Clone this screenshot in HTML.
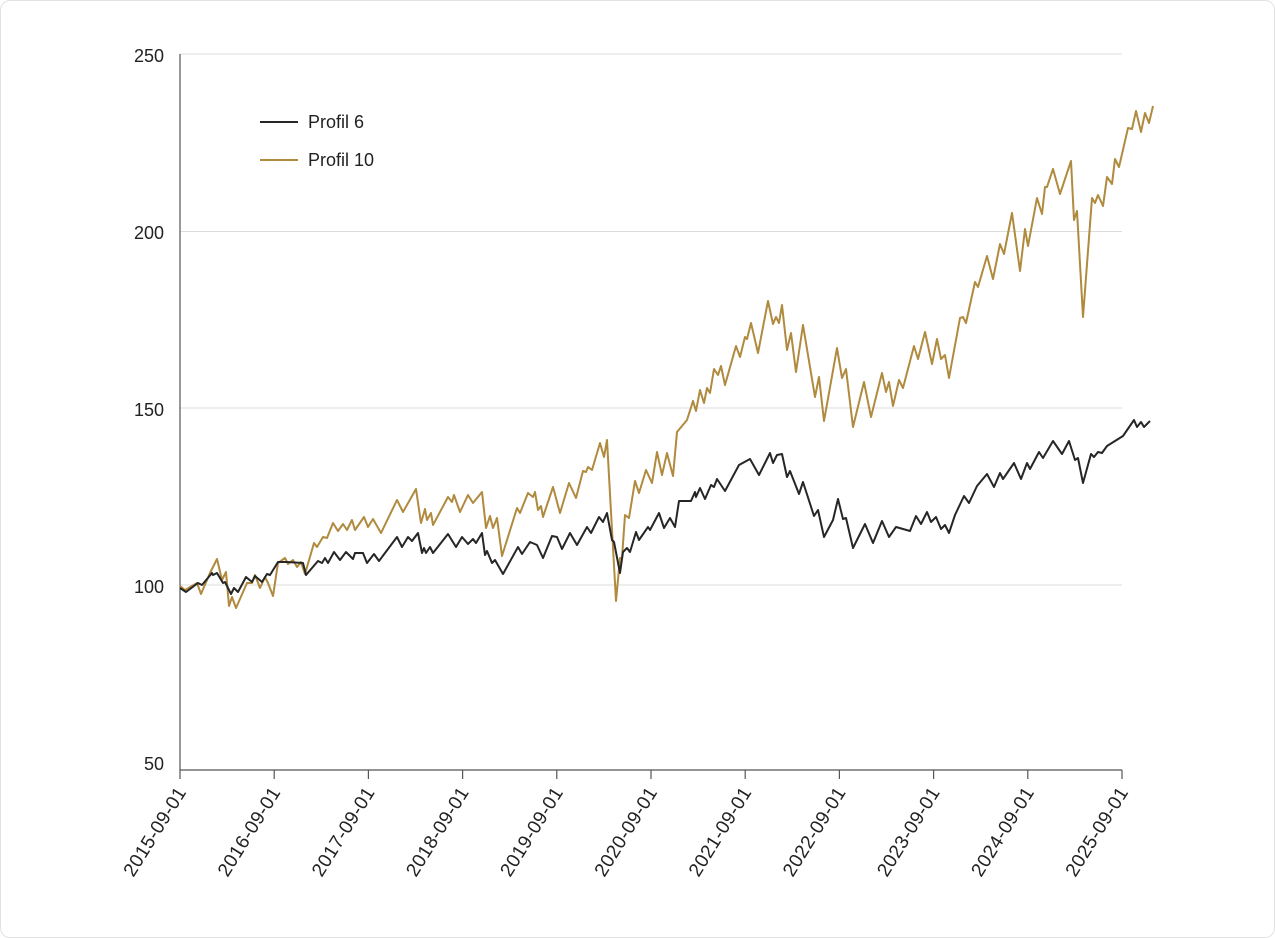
<!DOCTYPE html>
<html><head><meta charset="utf-8"><style>
html,body{margin:0;padding:0;background:#fff;}
.frame{position:absolute;left:0;top:0;width:1273px;height:936px;border:1px solid #e2e2e2;border-radius:10px;}
svg{position:absolute;left:0;top:0;}
text{font-family:"Liberation Sans",sans-serif;fill:#222;}
</style></head><body>
<div class="frame"></div>
<svg width="1275" height="938" viewBox="0 0 1275 938">
<g stroke="#dcdcdc" stroke-width="1">
<line x1="180" y1="54" x2="1122" y2="54"/>
<line x1="180" y1="231.5" x2="1122" y2="231.5"/>
<line x1="180" y1="408" x2="1122" y2="408"/>
<line x1="180" y1="585" x2="1122" y2="585"/>
</g>
<g stroke="#555" stroke-width="1.2">
<line x1="180" y1="54" x2="180" y2="770"/>
<line x1="180" y1="770" x2="1122" y2="770"/>
<line x1="180" y1="770" x2="180" y2="779"/>
<line x1="274.2" y1="770" x2="274.2" y2="779"/>
<line x1="368.4" y1="770" x2="368.4" y2="779"/>
<line x1="462.6" y1="770" x2="462.6" y2="779"/>
<line x1="556.8" y1="770" x2="556.8" y2="779"/>
<line x1="651" y1="770" x2="651" y2="779"/>
<line x1="745.2" y1="770" x2="745.2" y2="779"/>
<line x1="839.4" y1="770" x2="839.4" y2="779"/>
<line x1="933.6" y1="770" x2="933.6" y2="779"/>
<line x1="1027.8" y1="770" x2="1027.8" y2="779"/>
<line x1="1122" y1="770" x2="1122" y2="779"/>
</g>
<g font-size="18" text-anchor="end">
<text x="164" y="62">250</text>
<text x="164" y="239">200</text>
<text x="164" y="416">150</text>
<text x="164" y="593">100</text>
<text x="164" y="770">50</text>
</g>
<g font-size="19" text-anchor="end" letter-spacing="0.4">
<text transform="translate(187,792) rotate(-58)">2015-09-01</text>
<text transform="translate(281.2,792) rotate(-58)">2016-09-01</text>
<text transform="translate(375.4,792) rotate(-58)">2017-09-01</text>
<text transform="translate(469.6,792) rotate(-58)">2018-09-01</text>
<text transform="translate(563.8,792) rotate(-58)">2019-09-01</text>
<text transform="translate(658,792) rotate(-58)">2020-09-01</text>
<text transform="translate(752.2,792) rotate(-58)">2021-09-01</text>
<text transform="translate(846.4,792) rotate(-58)">2022-09-01</text>
<text transform="translate(940.6,792) rotate(-58)">2023-09-01</text>
<text transform="translate(1034.8,792) rotate(-58)">2024-09-01</text>
<text transform="translate(1129,792) rotate(-58)">2025-09-01</text>
</g>
<polyline fill="none" stroke="#b08a3e" stroke-width="2" stroke-linejoin="round" points="180,586 185,590 197,583 201,594 210,573 217,559 222,580 226,572 229,606 232,597 236,608 247,583 252,583 255,575 260,588 265,577 268,583 273,596 278,563 285,558 288,564 293,560 297,567 301,562 305,574 314,543 317,547 323,537 327,538 333,523 338,531 343,524 347,530 352,520 355,530 364,517 368,527 373,519 381,533 397,500 403,512 416,489 421,523 425,509 427,520 431,513 433,525 448,497 452,502 454,495 460,512 468,495 473,503 482,492 486,528 490,516 493,528 497,518 502,556 517,508 520,513 528,493 533,497 535,492 538,510 541,506 543,517 553,487 560,513 569,483 576,498 583,471 586,472 588,467 592,470 600,443 604,457 607,440 611,512 616,601 620,558 622,558 625,515 629,518 635,481 639,493 646,470 652,483 657,452 662,475 667,453 673,476 677,432 687,420 693,401 696,411 700,390 704,403 707,388 710,393 714,369 718,375 721,366 725,385 736,346 740,357 745,337 747,339 751,323 758,353 768,301 773,324 776,317 779,323 782,305 787,350 791,333 796,372 803,325 815,397 819,377 824,421 837,348 842,378 846,369 853,427 864,382 871,417 882,373 886,392 889,382 893,406 899,380 903,388 914,346 918,359 925,332 932,364 937,339 941,359 945,355 949,378 960,318 963,317 966,323 975,282 978,287 987,256 993,279 1000,244 1004,254 1012,213 1020,271 1025,229 1028,246 1037,198 1042,214 1045,187 1047,187 1053,169 1060,194 1071,161 1074,220 1077,211 1083,317 1092,198 1095,203 1098,195 1103,206 1107,177 1112,184 1115,159 1119,167 1128,128 1132,129 1136,111 1141,132 1145,113 1149,123 1153,106"/>
<polyline fill="none" stroke="#262626" stroke-width="2" stroke-linejoin="round" points="180,588 186,592 198,583 202,585 212,573 213,575 217,573 223,583 225,582 231,594 234,588 238,592 246,577 252,582 255,576 262,582 267,574 270,575 278,562 287,562 303,563 306,575 318,561 322,563 325,558 328,563 334,552 340,560 346,552 353,559 355,553 363,553 367,563 374,554 379,561 397,537 402,547 408,537 412,541 418,533 422,553 424,548 426,553 430,547 433,553 448,534 456,547 462,537 468,544 473,539 476,543 482,533 485,555 487,551 492,563 495,560 503,574 518,547 522,554 530,542 537,545 543,558 552,536 557,537 562,549 570,533 577,545 587,527 591,533 599,517 603,522 607,513 612,540 614,542 620,573 623,552 627,548 630,552 636,532 639,540 648,527 650,530 659,513 664,528 670,518 675,527 679,501 691,501 695,492 696,497 700,488 705,499 711,485 714,487 717,479 725,491 739,465 750,459 759,475 770,453 773,463 777,455 782,454 787,477 790,471 799,494 803,482 814,516 818,510 824,537 833,520 838,499 843,519 846,518 853,548 865,524 873,543 882,521 889,537 896,527 910,531 916,516 921,524 927,512 931,522 936,517 941,529 945,525 949,533 955,515 964,496 969,503 977,486 987,474 994,487 1000,473 1003,479 1014,463 1021,479 1027,463 1030,469 1039,452 1043,458 1053,441 1062,454 1069,441 1075,460 1078,458 1083,483 1091,454 1094,457 1098,452 1102,453 1107,446 1123,436 1134,420 1137,427 1141,422 1144,427 1150,421"/>
<line x1="260" y1="122" x2="298" y2="122" stroke="#262626" stroke-width="2"/>
<line x1="260" y1="160" x2="298" y2="160" stroke="#b08a3e" stroke-width="2"/>
<text x="308" y="128" font-size="18">Profil 6</text>
<text x="308" y="166" font-size="18">Profil 10</text>
</svg>
</body></html>
